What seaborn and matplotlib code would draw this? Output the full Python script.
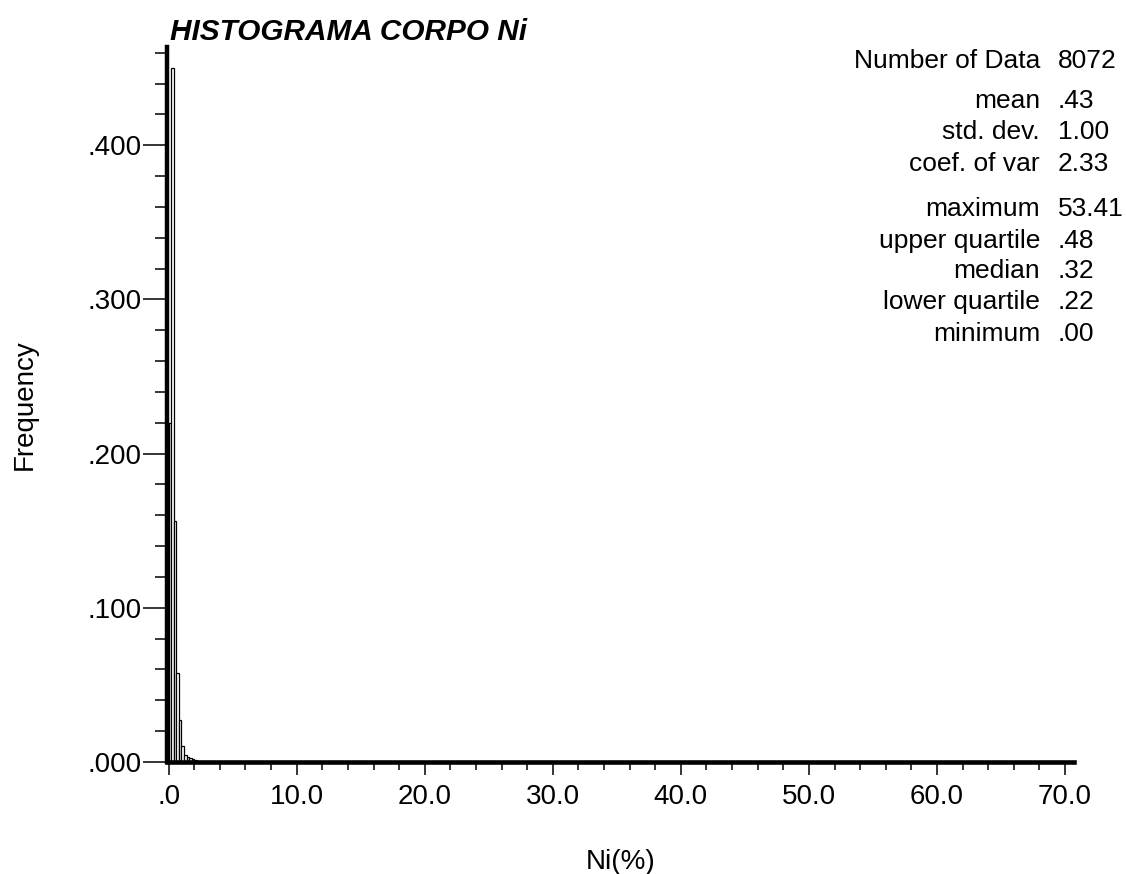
import numpy as np
import pandas as pd
import matplotlib
matplotlib.use("Agg")
import matplotlib.pyplot as plt
from matplotlib.ticker import MultipleLocator, FixedLocator
import seaborn as sns

# Class limits (Ni %) and relative frequency of each class
bin_lower = [0.0, 0.2, 0.4, 0.6, 0.8, 1.0, 1.2, 1.4, 1.6, 1.8, 2.0, 2.2, 2.4]
bin_width = 0.2
frequency = [0.220, 0.450, 0.156, 0.058, 0.027, 0.0105, 0.0045,
             0.0030, 0.0025, 0.0022, 0.0010, 0.0008, 0.0006]

# Summary statistics
stat_names = ["Number of Data", "mean", "std. dev.", "coef. of var",
              "maximum", "upper quartile", "median", "lower quartile", "minimum"]
stat_values = ["8072", ".43", "1.00", "2.33",
               "53.41", ".48", ".32", ".22", ".00"]

x_major = [0, 10, 20, 30, 40, 50, 60, 70]
x_labels = [".0", "10.0", "20.0", "30.0", "40.0", "50.0", "60.0", "70.0"]
y_major = [0.0, 0.1, 0.2, 0.3, 0.4]
y_labels = [".000", ".100", ".200", ".300", ".400"]

sns.set_style("white")
plt.rcParams["font.family"] = ["Liberation Sans", "DejaVu Sans"]
plt.rcParams.update({
    "text.color": "black",
    "axes.labelcolor": "black",
    "xtick.color": "black",
    "ytick.color": "black",
    "axes.edgecolor": "black",
})

W, H = 1126, 874
fig = plt.figure(figsize=(W / 100, H / 100), dpi=100)
# axes box in pixel coordinates
left_px, right_px, top_px, bottom_px = 167, 1074, 47, 762
ax = fig.add_axes([left_px / W, 1 - bottom_px / H,
                   (right_px - left_px) / W, (bottom_px - top_px) / H])

df = pd.DataFrame({
    "ni": [b + bin_width / 2 for b in bin_lower],
    "freq": frequency,
})
edges = list(bin_lower) + [bin_lower[-1] + bin_width]
sns.histplot(data=df, x="ni", weights="freq", bins=edges, stat="count",
             element="bars", fill=True, color="white", edgecolor="black",
             linewidth=0.9, alpha=1.0, ax=ax)

ax.set_xlim(-0.13, 70.7)
ax.set_ylim(0, 0.4637)

for side in ["top", "right"]:
    ax.spines[side].set_visible(False)
ax.spines["left"].set_linewidth(3.2)
ax.spines["bottom"].set_linewidth(3.3)
ax.spines["left"].set_color("black")
ax.spines["bottom"].set_color("black")

ax.xaxis.set_major_locator(FixedLocator(x_major))
ax.set_xticklabels(x_labels)
ax.xaxis.set_minor_locator(MultipleLocator(2))
ax.yaxis.set_major_locator(FixedLocator(y_major))
ax.set_yticklabels(y_labels)
ax.yaxis.set_minor_locator(MultipleLocator(0.02))

ax.tick_params(axis="x", which="major", direction="out", length=9, width=1.1,
               color="black", labelcolor="black", labelsize=20, pad=7, bottom=True)
ax.tick_params(axis="x", which="minor", direction="out", length=6, width=1.1,
               color="black", bottom=True)
ax.tick_params(axis="y", which="major", direction="out", length=17, width=1.1,
               color="black", labelcolor="black", labelsize=20, pad=1, left=True)
ax.tick_params(axis="y", which="minor", direction="out", length=9, width=1.1,
               color="black", left=True)

ax.set_xlabel("Ni(%)", fontsize=20, labelpad=28, color="black")
ax.set_ylabel("Frequency", fontsize=20, labelpad=36, color="black")
ax.grid(False)

fig.text(170 / W, 1 - 40 / H, "HISTOGRAMA CORPO Ni", fontsize=21.4,
         fontweight="bold", fontstyle="italic", ha="left", va="baseline",
         color="black")

# statistics block: names right-aligned, values left-aligned
row_y = [61, 101, 132, 164, 209, 241, 271, 302, 334]
for name, val, y in zip(stat_names, stat_values, row_y):
    fig.text(1040 / W, 1 - y / H, name, fontsize=19, ha="right", va="center",
             color="black")
    fig.text(1058 / W, 1 - y / H, val, fontsize=19, ha="left", va="center",
             color="black")

fig.savefig("out.png", dpi=100, facecolor="white")
